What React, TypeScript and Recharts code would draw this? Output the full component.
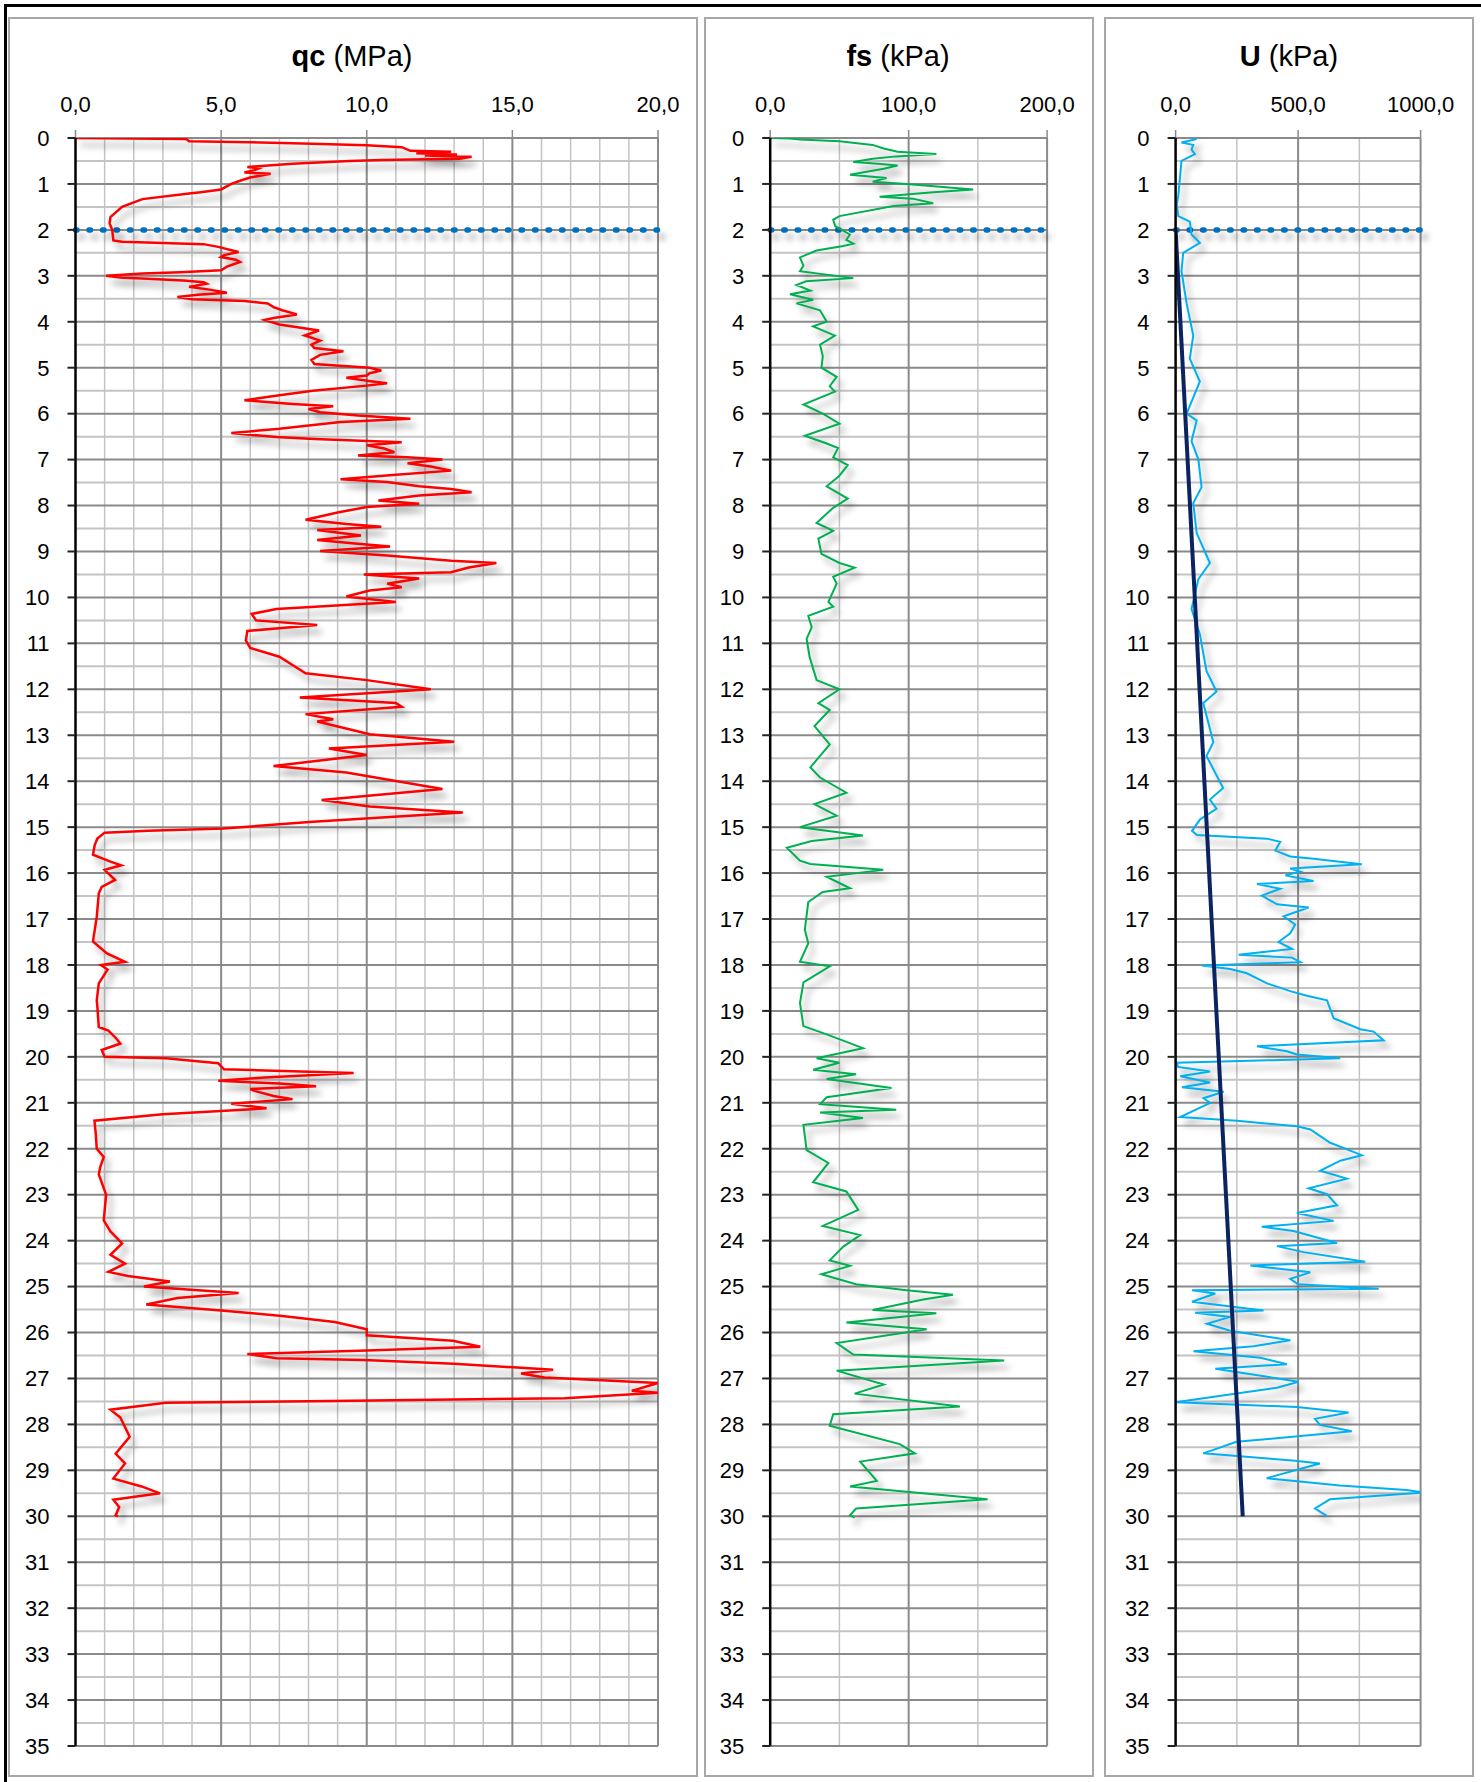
import React from 'react';
import { LineChart, Line, XAxis, YAxis, ReferenceLine } from 'recharts';

// ---------------- DATA ----------------
const depthTicks = [0,1,2,3,4,5,6,7,8,9,10,11,12,13,14,15,16,17,18,19,20,21,22,23,24,25,26,27,28,29,30,31,32,33,34,35];
const waterDepth = 2;

const qcTicks = [0, 5, 10, 15, 20];
const qcMinor = [1,2,3,4,6,7,8,9,11,12,13,14,16,17,18,19];
const fsTicks = [0, 100, 200];
const fsMinor = [50, 150];
const uTicks = [0, 500, 1000];
const uMinor = [250, 750];

const qcDepth = [0.00,0.02,0.07,0.09,0.12,0.16,0.20,0.28,0.30,0.33,0.36,0.38,0.41,0.45,0.48,0.50,0.56,0.63,0.66,0.70,0.75,0.78,0.86,0.92,1.00,1.12,1.18,1.21,1.33,1.40,1.50,1.72,1.86,2.00,2.23,2.26,2.31,2.37,2.48,2.55,2.59,2.65,2.70,2.80,2.88,2.92,2.95,3.00,3.04,3.06,3.10,3.14,3.17,3.24,3.30,3.37,3.41,3.46,3.51,3.55,3.60,3.68,3.75,3.84,3.92,3.96,4.06,4.19,4.30,4.41,4.50,4.57,4.64,4.72,4.83,4.92,5.00,5.06,5.12,5.17,5.22,5.30,5.34,5.39,5.50,5.60,5.71,5.79,5.84,5.90,5.97,6.04,6.11,6.18,6.33,6.42,6.51,6.55,6.62,6.69,6.76,6.84,6.91,6.95,7.00,7.08,7.15,7.24,7.33,7.43,7.49,7.58,7.64,7.71,7.78,7.89,7.96,8.03,8.15,8.31,8.40,8.46,8.53,8.65,8.75,8.82,8.89,8.99,9.09,9.20,9.25,9.35,9.45,9.50,9.59,9.70,9.78,9.85,9.98,10.10,10.25,10.36,10.50,10.60,10.73,10.94,11.10,11.29,11.47,11.65,11.80,12.00,12.18,12.30,12.38,12.54,12.65,12.70,12.98,13.14,13.29,13.43,13.67,13.81,14.17,14.41,14.55,14.68,14.88,15.03,15.08,15.12,15.25,15.39,15.60,15.75,15.83,15.93,16.15,16.30,16.44,16.95,17.49,17.75,17.93,18.00,18.10,18.40,18.77,18.90,19.35,19.43,19.60,19.71,19.85,20.00,20.03,20.14,20.27,20.35,20.45,20.52,20.58,20.64,20.70,20.74,20.85,20.92,21.02,21.12,21.25,21.39,21.70,22.00,22.18,22.40,22.56,23.00,23.56,23.80,24.06,24.31,24.50,24.68,24.77,24.89,25.00,25.14,25.25,25.39,25.52,25.64,25.77,25.93,26.06,26.18,26.31,26.39,26.47,26.56,26.60,26.68,26.81,26.89,26.98,27.10,27.27,27.31,27.43,27.49,27.53,27.68,27.85,28.27,28.64,28.85,29.18,29.35,29.50,29.64,29.80,29.98,30.00];
const qcValue = [0.0,3.8,3.9,6.0,7.8,10.0,11.2,11.5,12.9,11.7,13.1,12.0,13.6,13.2,10.5,9.4,7.45,5.9,6.3,6.15,5.8,6.7,6.0,5.7,5.35,5.0,4.3,3.9,2.3,2.0,1.6,1.2,1.17,1.26,1.3,1.6,4.4,4.9,5.6,5.1,5.0,5.5,5.65,5.2,5.0,3.6,2.3,1.05,1.6,2.3,3.7,4.4,4.5,3.9,4.6,5.2,4.2,3.5,4.0,5.8,6.6,6.8,7.1,7.6,6.8,6.5,7.0,8.36,7.87,8.4,8.1,8.2,9.2,8.4,8.1,8.2,10.1,10.5,10.1,10.0,9.3,10.2,10.7,10.0,8.15,7.0,5.8,7.45,8.85,8.0,8.4,9.7,11.5,9.1,7.0,5.35,6.9,8.2,11.2,10.0,10.6,10.95,9.7,11.4,12.6,11.4,12.2,12.9,11.0,9.1,10.7,11.8,12.9,13.6,11.8,10.4,11.8,10.0,9.0,7.9,9.3,10.5,8.3,9.8,8.3,9.5,10.8,8.4,10.7,12.9,14.45,13.5,12.9,9.9,11.8,10.7,11.2,10.1,9.3,11.0,6.9,6.05,6.2,8.3,5.9,5.85,6.0,7.0,7.45,7.9,10.0,12.2,7.7,11.0,11.2,7.9,8.85,8.3,10.1,13.0,8.7,10.0,6.8,9.3,12.6,8.45,10.1,13.3,8.15,5.1,2.5,1.0,0.75,0.66,0.6,1.2,1.57,1.0,1.36,0.9,0.8,0.73,0.6,1.08,1.7,0.87,1.1,0.8,0.73,0.75,0.8,1.13,1.4,1.54,0.9,1.0,3.1,4.9,5.1,9.55,6.5,4.9,7.0,8.26,6.0,6.15,6.8,7.45,5.35,6.56,3.0,0.65,0.7,0.73,0.97,0.85,0.8,1.05,0.97,1.2,1.6,1.2,1.7,1.13,1.8,3.24,2.35,5.6,3.5,2.43,5.0,7.1,8.9,10.0,10.0,12.96,13.9,10.0,5.9,6.9,9.9,13.0,16.4,15.3,16.1,20.0,19.1,20.0,16.8,8.75,3.1,1.2,1.54,1.86,1.38,1.7,1.3,2.27,2.9,1.3,1.5,1.38,1.46];

const fsDepth = [0.00,0.01,0.03,0.07,0.15,0.23,0.30,0.35,0.40,0.45,0.52,0.56,0.60,0.67,0.80,0.87,0.95,1.00,1.12,1.18,1.28,1.32,1.42,1.48,1.70,1.78,1.92,2.10,2.22,2.30,2.35,2.45,2.60,2.78,2.90,3.05,3.12,3.20,3.32,3.40,3.52,3.60,3.75,4.00,4.10,4.30,4.50,4.75,5.00,5.20,5.40,5.52,5.80,6.00,6.22,6.48,6.65,6.75,6.95,7.12,7.35,7.58,7.85,8.05,8.38,8.55,8.72,9.05,9.25,9.35,9.55,9.70,10.10,10.20,10.40,10.65,10.90,11.30,11.80,12.00,12.30,12.45,12.80,13.20,13.45,13.70,13.92,14.25,14.50,14.75,15.00,15.18,15.30,15.45,15.73,15.80,15.93,16.08,16.33,16.41,16.63,17.23,17.53,17.93,18.03,18.38,18.83,19.33,19.51,19.81,20.03,20.13,20.28,20.38,20.48,20.68,20.88,21.03,21.15,21.21,21.33,21.48,22.03,22.31,22.73,22.93,23.33,23.68,23.88,24.13,24.43,24.55,24.73,24.95,25.08,25.18,25.28,25.51,25.58,25.78,25.93,26.23,26.48,26.61,26.83,27.13,27.33,27.61,27.78,28.03,28.43,28.63,28.81,29.23,29.35,29.63,29.83,29.98,30.03];
const fsValue = [0,14,21.5,50,74,82,92,120,91,74,60,78,92,82,57.6,84,74,98.5,146.6,117.7,79,103,117.7,89,50,45.5,47,57.6,55,60,52.8,33.5,21.5,24,21.5,60,26,19,29,14.3,31,19,36,40.8,31,46.7,36,38,37,48,43,46.7,24,38,50,25,40.8,49,45.5,56,50,40.8,56,45.5,33.5,45.5,34.8,37,50,61,45.5,48,42,45.5,27.5,30,26.3,28.5,33.5,50,34.8,43,32,43,36,29,36,55,32,48,21.5,67,30,12,21.5,29,81.6,40.8,57.6,38,27.5,25,27.5,21.5,43,24,21.5,24,40.8,67,33.5,50,31,62,40.8,87.6,40.8,36,91,36,67,24,26.3,42,31,55,63.6,38,65,52.8,43,57.6,37,62,98.5,132,110.5,74,120,55,113,48,60,169,48,82,61,137,45.5,43,93.6,104.5,65,77,57.6,157,62,57.6,61];

const uDepth = [0.02,0.10,0.15,0.25,0.35,0.50,0.85,1.25,1.45,1.70,1.82,2.10,2.28,2.50,2.90,3.60,4.30,4.80,5.30,6.00,6.15,6.60,7.00,7.60,7.95,8.60,9.25,9.60,10.25,10.80,11.60,12.05,12.30,13.15,13.45,14.15,14.40,14.60,14.83,15.08,15.17,15.25,15.32,15.51,15.64,15.69,15.81,15.90,15.97,16.05,16.17,16.24,16.34,16.49,16.68,16.75,16.94,17.12,17.31,17.50,17.65,17.78,17.84,17.94,18.01,18.09,18.18,18.40,18.57,18.67,18.77,19.16,19.40,19.45,19.64,19.77,19.88,19.95,20.03,20.13,20.22,20.32,20.42,20.56,20.66,20.76,20.90,21.00,21.31,21.39,21.51,21.58,21.87,22.14,22.26,22.48,22.65,22.86,22.99,23.23,23.40,23.57,23.70,23.79,24.05,24.12,24.25,24.46,24.54,24.69,24.83,24.95,25.05,25.08,25.15,25.33,25.52,25.57,25.66,25.81,25.96,26.17,26.30,26.41,26.55,26.69,26.79,27.07,27.20,27.52,27.62,27.74,27.88,28.01,28.15,28.38,28.63,28.79,28.85,29.17,29.33,29.43,29.48,29.63,29.83,29.99];
const uValue = [86,24,72,65,79,24,18,11,5,11,58,65,99,31,24,45,72,58,99,45,86,65,93,106,72,86,140,93,65,99,126,167,113,154,126,194,140,167,100,67,87,373,427,407,468,563,760,468,509,448,563,332,427,352,414,543,441,488,468,420,475,257,475,509,107,223,291,373,468,536,618,645,754,808,849,332,454,495,672,5,10,141,19,141,26,196,114,141,19,250,495,550,631,760,672,590,699,543,618,659,495,645,352,481,659,414,522,774,305,550,468,500,829,67,162,67,359,80,223,128,223,468,318,73,346,454,162,502,414,0,495,706,569,589,719,249,113,488,589,372,671,943,1011,630,569,617];

const hydroDepth = [2, 30];
const hydroValue = [0, 274];

// ---------------- helpers ----------------
const toRows = (depths: number[], values: number[]) => depths.map((d, i) => ({ d, v: values[i] }));
const qcRows = toRows(qcDepth, qcValue);
const fsRows = toRows(fsDepth, fsValue);
const uRows = toRows(uDepth, uValue);
const hydroRows = toRows(hydroDepth, hydroValue);

const halfDepths = depthTicks.slice(0, -1).map((t) => t + 0.5);
const fmt = (v: number) => v.toFixed(1).replace('.', ',');

const FONT = "'Liberation Sans', Arial, sans-serif";
const MAJOR = '#8a8a8a';
const MINOR = '#c4c4c4';

type PanelProps = {
  left: number; top: number; width: number; height: number;
  margin: { top: number; right: number; bottom: number; left: number };
  max: number; ticks: number[]; minor: number[];
  series: { rows: { d: number; v: number }[]; color: string; width: number; shadow: boolean }[];
};

function Panel(p: PanelProps) {
  const majors = p.ticks.filter((t) => t !== 0);
  return (
    <div style={{ position: 'absolute', left: p.left, top: p.top }}>
      <LineChart width={p.width} height={p.height} layout="vertical" margin={p.margin}>
        <XAxis
          type="number"
          orientation="top"
          domain={[0, p.max]}
          ticks={p.ticks}
          allowDataOverflow
          tickFormatter={fmt}
          axisLine={false}
          tickLine={{ stroke: MAJOR, strokeWidth: 1.5 }}
          tickSize={8}
          tickMargin={18}
          height={40}
          interval={0}
          tick={{ fill: '#000', fontSize: 22, fontFamily: FONT }}
        />
        <YAxis
          type="number"
          dataKey="d"
          domain={[0, 35]}
          ticks={depthTicks}
          allowDataOverflow
          interval={0}
          width={60}
          axisLine={{ stroke: '#000', strokeWidth: 2.5 }}
          tickLine={{ stroke: '#222', strokeWidth: 2 }}
          tickSize={8}
          tickMargin={18}
          tick={{ fill: '#000', fontSize: 22, fontFamily: FONT }}
        />
        {halfDepths.map((d) => (
          <ReferenceLine key={'hm' + d} y={d} stroke={MINOR} strokeWidth={2} />
        ))}
        {p.minor.map((x) => (
          <ReferenceLine key={'vm' + x} x={x} stroke={MINOR} strokeWidth={1.5} />
        ))}
        {depthTicks.filter((d) => d !== 0).map((d) => (
          <ReferenceLine key={'hM' + d} y={d} stroke={MAJOR} strokeWidth={2} />
        ))}
        <ReferenceLine y={0} stroke={MAJOR} strokeWidth={2} />
        {majors.map((x) => (
          <ReferenceLine key={'vM' + x} x={x} stroke={MAJOR} strokeWidth={2} />
        ))}
        <ReferenceLine
          y={waterDepth}
          stroke="#0070C0"
          strokeWidth={5.5}
          strokeDasharray="1.5 12"
          strokeLinecap="round"
          className="cpt-shadow"
        />
        {p.series.map((s, i) => (
          <Line
            key={'s' + i}
            data={s.rows}
            dataKey="v"
            type="linear"
            stroke={s.color}
            strokeWidth={s.width}
            dot={false}
            activeDot={false}
            isAnimationActive={false}
            className={s.shadow ? 'cpt-shadow' : undefined}
          />
        ))}
      </LineChart>
    </div>
  );
}

function Title({ cx, bold, rest }: { cx: number; bold: string; rest: string }) {
  return (
    <div
      style={{
        position: 'absolute', left: cx - 150, top: 39, width: 300, textAlign: 'center',
        fontFamily: FONT, fontSize: 29, lineHeight: '34px', color: '#000', whiteSpace: 'nowrap',
      }}
    >
      <b>{bold}</b> {rest}
    </div>
  );
}

const boxStyle = (left: number, width: number): React.CSSProperties => ({
  position: 'absolute', left, top: 17, width, height: 1760, border: '2px solid #a8a8a8',
  boxSizing: 'border-box', background: '#fff',
});

export default function App() {
  return (
    <div style={{ position: 'absolute', left: 0, top: 0, width: 1481, height: 1782, background: '#fff', overflow: 'hidden' }}>
      <style>{`.cpt-shadow path, .cpt-shadow line { filter: drop-shadow(5px 7px 3px rgba(0,0,0,0.35)); }`}</style>
      <div style={{ position: 'absolute', left: 4, top: 4, width: 1477, height: 1778, borderTop: '3px solid #000', borderLeft: '3px solid #000', boxSizing: 'border-box' }} />
      <div style={boxStyle(8, 690)} />
      <div style={boxStyle(704, 390)} />
      <div style={boxStyle(1104, 370)} />
      <Title cx={352} bold="qc" rest="(MPa)" />
      <Title cx={898} bold="fs" rest="(kPa)" />
      <Title cx={1289} bold="U" rest="(kPa)" />
      <Panel
        left={8} top={18} width={690} height={1758}
        margin={{ top: 80, right: 40, bottom: 30, left: 7.5 }}
        max={20} ticks={qcTicks} minor={qcMinor}
        series={[{ rows: qcRows, color: '#FF0000', width: 2.5, shadow: true }]}
      />
      <Panel
        left={704} top={18} width={390} height={1758}
        margin={{ top: 80, right: 46.9, bottom: 30, left: 6.2 }}
        max={200} ticks={fsTicks} minor={fsMinor}
        series={[{ rows: fsRows, color: '#00B050', width: 2, shadow: true }]}
      />
      <Panel
        left={1104} top={18} width={370} height={1758}
        margin={{ top: 80, right: 53.4, bottom: 30, left: 11.6 }}
        max={1000} ticks={uTicks} minor={uMinor}
        series={[
          { rows: uRows, color: '#00B0F0', width: 2, shadow: true },
          { rows: hydroRows, color: '#0B2461', width: 4, shadow: false },
        ]}
      />
    </div>
  );
}
